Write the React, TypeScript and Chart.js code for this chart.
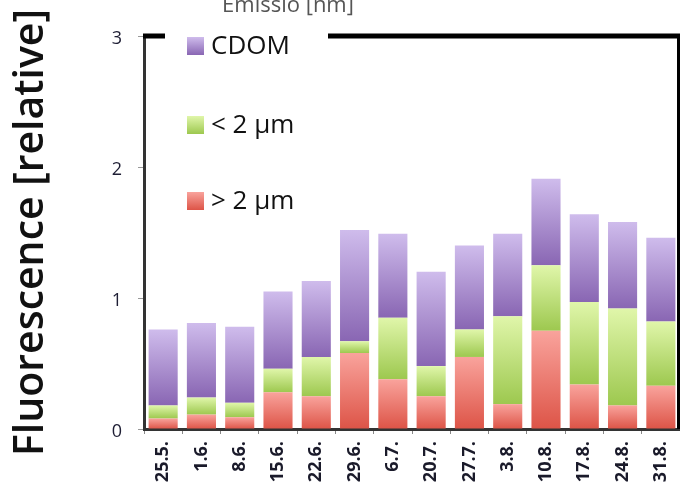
import React, { useEffect, useRef } from "react";
import { Chart, registerables } from "chart.js";

Chart.register(...registerables);

const categories = ["25.5.", "1.6.", "8.6.", "15.6.", "22.6.", "29.6.", "6.7.", "20.7.", "27.7.", "3.8.", "10.8.", "17.8.", "24.8.", "31.8."];
// > 2 µm fraction (bottom segment)
const above2um = [0.08, 0.11, 0.09, 0.28, 0.25, 0.58, 0.38, 0.25, 0.55, 0.19, 0.75, 0.34, 0.18, 0.33];
// < 2 µm fraction (middle segment)
const below2um = [0.1, 0.13, 0.11, 0.18, 0.3, 0.09, 0.47, 0.23, 0.21, 0.67, 0.5, 0.63, 0.74, 0.49];
// CDOM (top segment)
const cdom = [0.58, 0.57, 0.58, 0.59, 0.58, 0.85, 0.64, 0.72, 0.64, 0.63, 0.66, 0.67, 0.66, 0.64];

const seriesNames = ["> 2 µm", "< 2 µm", "CDOM"];
const yTicks = [0, 1, 2, 3];
const yTitle = "Fluorescence [relative]";
const topTitle = "Emissio [nm]";

const series = [above2um, below2um, cdom];
const gradStops = [
  ["#f9a39c", "#dd5447"],
  ["#e0f6aa", "#9dc84f"],
  ["#cfbcec", "#8966b3"],
];

const FONT = "'Open Sans', 'DejaVu Sans', sans-serif";

function gradientFor(k: number) {
  return (c: any) => {
    const chart = c.chart;
    const y = chart.scales && chart.scales.y;
    if (c.type !== "data" || !y) return gradStops[k][1];
    const i = c.dataIndex;
    let base = 0;
    for (let d = 0; d < k; d++) base += series[d][i];
    const top = base + series[k][i];
    const y0 = y.getPixelForValue(top);
    const y1 = y.getPixelForValue(base);
    if (!isFinite(y0) || !isFinite(y1) || y0 === y1) return gradStops[k][1];
    const g = chart.ctx.createLinearGradient(0, y0, 0, y1);
    g.addColorStop(0, gradStops[k][0]);
    g.addColorStop(1, gradStops[k][1]);
    return g;
  };
}

const decorPlugin = {
  id: "decor",
  afterDraw(chart: any) {
    const ctx = chart.ctx;
    const a = chart.chartArea;
    ctx.save();
    // top and right frame lines
    ctx.strokeStyle = "#000";
    ctx.lineWidth = 5;
    ctx.beginPath();
    ctx.moveTo(a.left - 1, a.top);
    ctx.lineTo(a.right, a.top);
    ctx.stroke();
    ctx.lineWidth = 3;
    ctx.beginPath();
    ctx.moveTo(a.right - 1.5, a.top);
    ctx.lineTo(a.right - 1.5, a.bottom);
    ctx.stroke();

    // legend box
    ctx.fillStyle = "#fff";
    ctx.fillRect(165, 28, 163, 190);
    const rows = [
      { k: 2, y: 46 },
      { k: 1, y: 125 },
      { k: 0, y: 201 },
    ];
    ctx.font = `26px ${FONT}`;
    ctx.textBaseline = "middle";
    ctx.textAlign = "left";
    rows.forEach((r) => {
      const g = ctx.createLinearGradient(0, r.y - 9, 0, r.y + 9);
      g.addColorStop(0, gradStops[r.k][0]);
      g.addColorStop(1, gradStops[r.k][1]);
      ctx.fillStyle = g;
      ctx.fillRect(187, r.y - 9, 17, 18);
      ctx.fillStyle = "#111";
      ctx.fillText(seriesNames[r.k], 211, r.y + 1);
    });

    // partially visible top title
    ctx.font = `22px ${FONT}`;
    ctx.fillStyle = "#555";
    ctx.textAlign = "center";
    ctx.textBaseline = "alphabetic";
    ctx.fillText(topTitle, 288, 12);
    ctx.restore();
  },
};

export default function App() {
  const ref = useRef<HTMLCanvasElement | null>(null);
  useEffect(() => {
    if (!ref.current) return;
    const chart = new Chart(ref.current, {
      type: "bar",
      data: {
        labels: categories,
        datasets: series.map((s, k) => ({
          label: seriesNames[k],
          data: s,
          backgroundColor: gradientFor(k),
          borderWidth: 0,
          barPercentage: 0.76,
          categoryPercentage: 1,
        })),
      },
      options: {
        responsive: false,
        animation: false,
        devicePixelRatio: 1,
        layout: { padding: { top: 36, right: 0, bottom: 0, left: 0 } },
        plugins: {
          legend: { display: false },
          tooltip: { enabled: false },
          title: { display: false },
        },
        scales: {
          x: {
            stacked: true,
            z: 1,
            grid: {
              drawOnChartArea: false,
              drawTicks: true,
              tickLength: 5,
              tickColor: "#888",
              offset: true,
            },
            border: { display: true, color: "#333", width: 3 },
            ticks: {
              autoSkip: false,
              minRotation: 90,
              maxRotation: 90,
              padding: 7,
              color: "#1a1a2a",
              font: { family: FONT, size: 18, weight: "bold" },
            },
            afterFit: (s: any) => {
              s.height = 58;
              s.paddingLeft = 0;
              s.paddingRight = 0;
            },
          },
          y: {
            stacked: true,
            z: 1,
            min: 0,
            max: 3,
            afterBuildTicks: (s: any) => {
              s.ticks = yTicks.map((v) => ({ value: v }));
            },
            grid: {
              drawOnChartArea: false,
              drawTicks: true,
              tickLength: 6,
              tickColor: "#999",
            },
            border: { display: true, color: "#333", width: 3 },
            ticks: {
              padding: 16,
              labelOffset: 3,
              color: "#1e1e34",
              font: { family: FONT, size: 18 },
            },
            title: {
              display: true,
              text: yTitle,
              color: "#111",
              font: { family: FONT, size: 41, weight: "600" },
              padding: { top: 7, bottom: 0 },
            },
            afterFit: (s: any) => {
              s.width = 144;
              s.paddingTop = 0;
              s.paddingBottom = 0;
            },
          },
        },
      },
      plugins: [decorPlugin],
    });
    return () => chart.destroy();
  }, []);
  return (
    <div style={{ position: "absolute", left: 0, top: 0, width: 680, height: 487, background: "#fff" }}>
      <canvas ref={ref} width={680} height={487} style={{ display: "block" }} />
    </div>
  );
}
